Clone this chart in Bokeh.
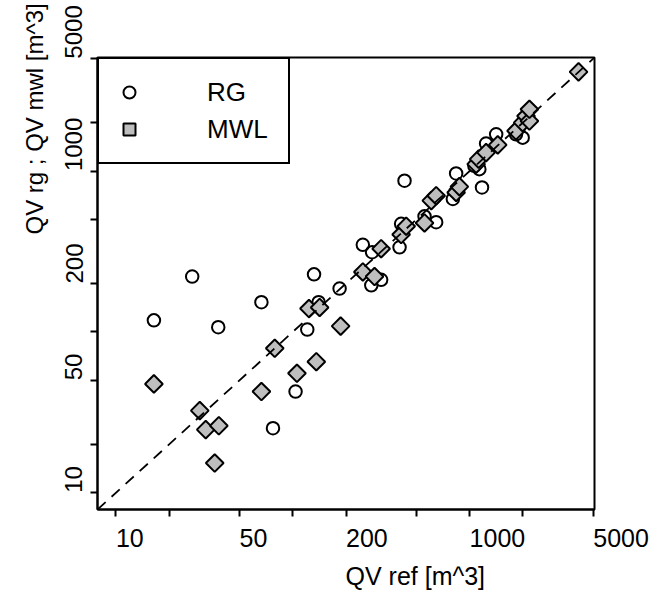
import math
from bokeh.plotting import figure
from bokeh.models import Range1d, FixedTicker, Slope, Legend, LegendItem, Title
from bokeh.embed import file_html
from bokeh.resources import INLINE

# ---- data ----
rg_ref = [16.4, 27.0, 37.9, 66.5, 77.3, 103.7, 120.8, 131.9, 140, 184, 249, 278, 281, 316,
          401.6, 410, 428.5, 556, 647, 804, 839, 1064, 1135, 1175, 1239, 1413, 1829, 1995]
rg_val = [118, 221, 107, 153, 25.2, 42.6, 103.5, 228, 153, 186, 348, 195, 313, 211,
          336, 470, 871, 523, 481, 671, 966, 1079, 1028, 791, 1483, 1694, 1694, 1614]

mwl_ref = [16.4, 29.8, 32.2, 36.2, 38.2, 66.5, 79.1, 105.6, 123.5, 135.9, 141.9, 186.5,
           249, 290, 316, 410, 438, 556, 607, 647, 839, 875, 1089, 1125, 1239, 1442,
           1829, 1995, 2084, 2178, 2178, 4130]
mwl_val = [47.5, 32.4, 24.7, 15.3, 26.1, 42.6, 79.1, 55.3, 139.8, 65.3, 142, 108.6,
           236, 221, 329, 403, 454, 476, 655, 703, 736, 800, 1104, 1186, 1303, 1455,
           1778, 2000, 2198, 2048, 2421, 4140]

axis_ticks = [10, 20, 50, 100, 200, 500, 1000, 2000, 5000]
label_ticks = [10, 50, 200, 1000, 5000]
label_texts = ["10", "50", "200", "1000", "5000"]
series_names = ["RG", "MWL"]
x_title = "QV ref [m^3]"
y_title = "QV rg  ;  QV mwl [m^3]"
lims = [10, 4000]

FONT = "Liberation Sans"
FIG_SPACE = "\u2007"   # digit-wide space: makes a centred label start at its tick

lo, hi = math.log10(lims[0]), math.log10(lims[1])
ext = 0.04 * (hi - lo)
r0, r1 = 10 ** (lo - ext), 10 ** (hi + ext)

p = figure(width=652, height=596, x_axis_type="log", y_axis_type="log",
           x_range=Range1d(r0, r1), y_range=Range1d(r0, r1),
           output_backend="svg", toolbar_location=None,
           min_border_left=97, min_border_right=58, min_border_top=57, min_border_bottom=87)
p.grid.visible = False
p.outline_line_color = "black"
p.outline_line_width = 2
p.outline_line_alpha = 1
p.background_fill_color = "white"
p.border_fill_color = "white"

overrides = {}
for v in axis_ticks:
    overrides[v] = ""
for v, t in zip(label_ticks, label_texts):
    overrides[v] = FIG_SPACE * len(t) + t

for ax in (p.xaxis[0], p.yaxis[0]):
    ax.ticker = FixedTicker(ticks=axis_ticks, minor_ticks=[])
    ax.major_label_overrides = overrides
    ax.major_tick_out = 7
    ax.major_tick_in = 0
    ax.major_tick_line_width = 2
    ax.axis_line_width = 2
    ax.minor_tick_line_color = None
    ax.major_label_text_font = FONT
    ax.major_label_text_color = "black"
p.xaxis[0].major_label_text_font_size = "25px"
p.yaxis[0].major_label_text_font_size = "24px"
p.xaxis[0].major_label_standoff = 7
p.yaxis[0].major_label_standoff = 3
p.yaxis[0].major_label_orientation = "vertical"

p.add_layout(Title(text=x_title, align="left", offset=248, standoff=10,
                   text_font=FONT, text_font_size="25px", text_font_style="normal",
                   text_color="black"), "below")
p.add_layout(Title(text=y_title, align="left", offset=275, standoff=19,
                   text_font=FONT, text_font_size="24px", text_font_style="normal",
                   text_color="black"), "left")

p.add_layout(Slope(gradient=1, y_intercept=0, line_color="black", line_width=1.8, line_dash="11 8"))

rc = p.scatter(rg_ref, rg_val, marker="circle", size=12.5, fill_color=None,
               line_color="black", line_width=2)
rm = p.scatter(mwl_ref, mwl_val, marker="square", angle=math.pi / 4, size=12.5,
               fill_color="#BEBEBE", line_color="black", line_width=2)

legend = Legend(items=[LegendItem(label=series_names[0], renderers=[rc]),
                       LegendItem(label=series_names[1], renderers=[rm])],
                location="top_left", margin=0, padding=15, spacing=1,
                glyph_width=30, glyph_height=36, label_standoff=63, label_width=66,
                label_text_font=FONT, label_text_font_size="26px", label_text_color="black",
                border_line_color="black", border_line_alpha=1, border_line_width=2,
                background_fill_color="white", background_fill_alpha=1)
p.add_layout(legend)

open("out.html", "w").write(file_html(p, INLINE))
